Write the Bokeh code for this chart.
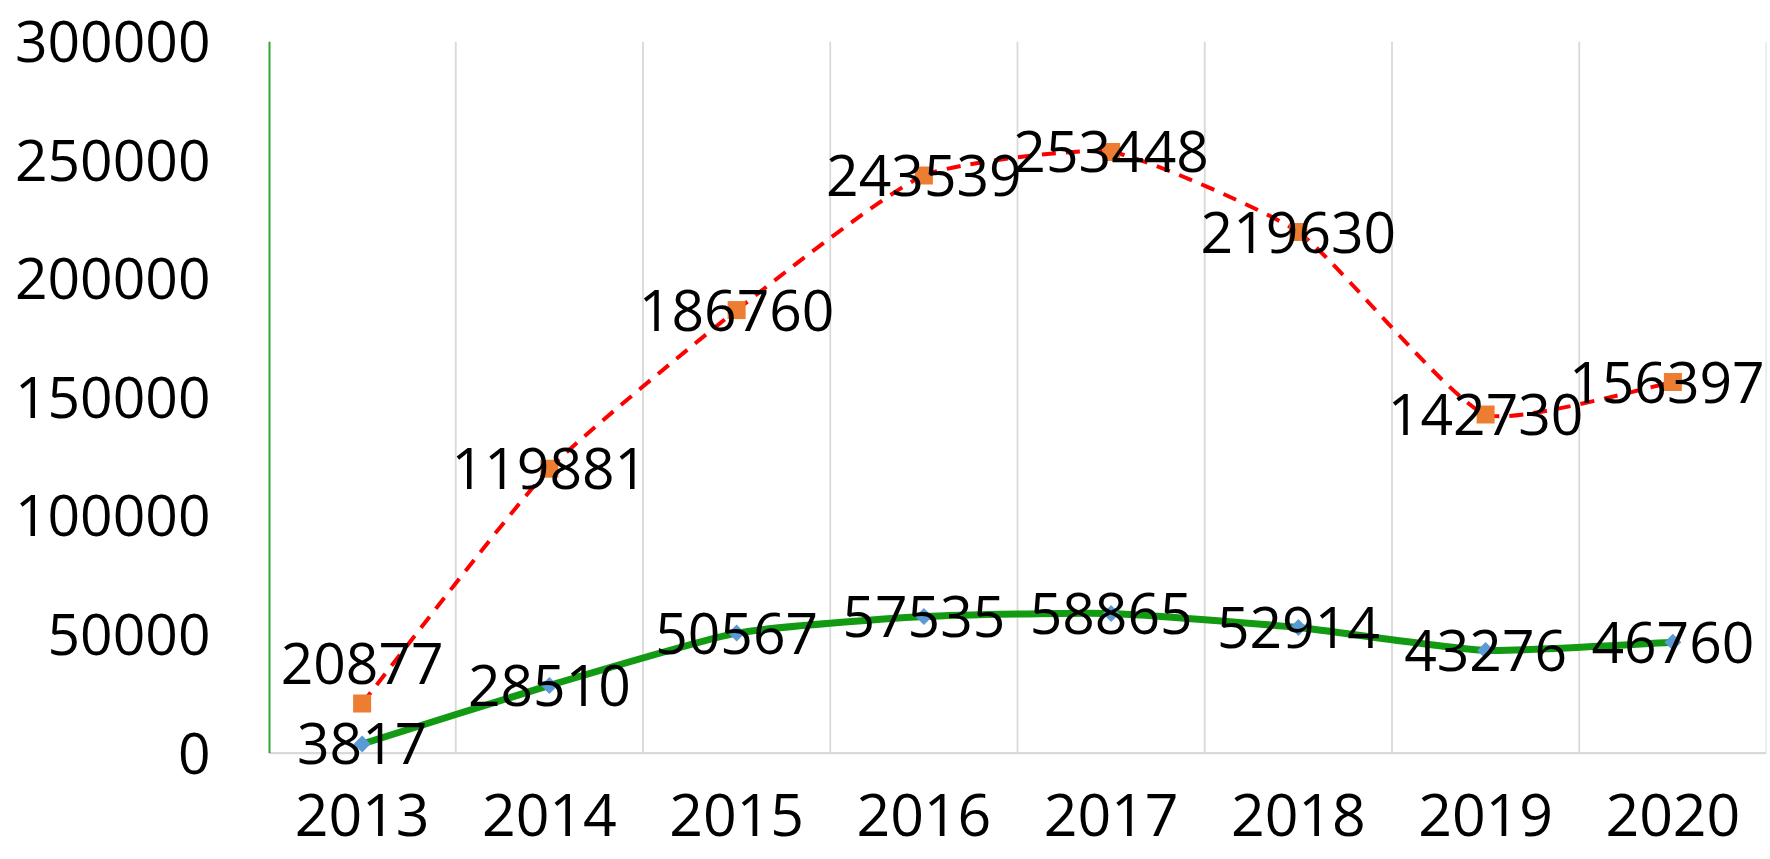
import numpy as np
from bokeh.plotting import figure
from bokeh.models import FixedTicker, NumeralTickFormatter, ColumnDataSource, Range1d, Label
from bokeh.embed import file_html
from bokeh.resources import INLINE

# ---- data ----
years = ["2013", "2014", "2015", "2016", "2017", "2018", "2019", "2020"]
series_red = [20877, 119881, 186760, 243539, 253448, 219630, 142730, 156397]
series_green = [3817, 28510, 50567, 57535, 58865, 52914, 43276, 46760]
y_ticks = [0, 50000, 100000, 150000, 200000, 250000, 300000]

FONT = "Open Sans"
x = [i + 0.5 for i in range(len(years))]
boundaries = list(range(0, len(years) + 1))

W, H = 1768, 857
LEFT, TOP, RIGHT, BOTTOM = 268, 41, 2, 76
Y_PAD = 12000  # room below zero so the lowest data label is not clipped by the frame
PX_X = (W - LEFT - RIGHT) / len(years)
PX_Y = (H - TOP - BOTTOM) / (y_ticks[-1] - y_ticks[0] + Y_PAD)


def bezier_source(xs, ys, t=0.17):
    """Control points for an Excel-like smoothed line through the data points."""
    n = len(xs)
    P = [(xi * PX_X, yi * PX_Y) for xi, yi in zip(xs, ys)]

    def dist(a, b):
        return ((a[0] - b[0]) ** 2 + (a[1] - b[1]) ** 2) ** 0.5

    outs, ins = [], []
    for i in range(n):
        a = P[max(i - 1, 0)]
        c = P[min(i + 1, n - 1)]
        m = (c[0] - a[0], c[1] - a[1])
        d0 = dist(a, P[i]) if i > 0 else dist(P[i], c)
        d1 = dist(P[i], c) if i < n - 1 else dist(a, P[i])
        w_out = t * d1 / (d0 + d1)
        w_in = t * d0 / (d0 + d1)
        outs.append((P[i][0] + m[0] * w_out, P[i][1] + m[1] * w_out))
        ins.append((P[i][0] - m[0] * w_in, P[i][1] - m[1] * w_in))
    d = dict(x0=[], y0=[], x1=[], y1=[], cx0=[], cy0=[], cx1=[], cy1=[])
    for i in range(n - 1):
        d["x0"].append(xs[i]); d["y0"].append(ys[i])
        d["x1"].append(xs[i + 1]); d["y1"].append(ys[i + 1])
        d["cx0"].append(outs[i][0] / PX_X); d["cy0"].append(outs[i][1] / PX_Y)
        d["cx1"].append(ins[i + 1][0] / PX_X); d["cy1"].append(ins[i + 1][1] / PX_Y)
    return ColumnDataSource(d)


p = figure(width=W, height=H, output_backend="svg", toolbar_location=None,
           x_range=Range1d(0, len(years)),
           y_range=Range1d(y_ticks[0] - Y_PAD, y_ticks[-1]),
           min_border_left=LEFT, min_border_top=TOP, min_border_right=RIGHT,
           min_border_bottom=BOTTOM)
p.outline_line_color = None
p.background_fill_color = "white"
p.border_fill_color = "white"

# axes (lines drawn separately so they stop at zero)
p.xaxis.ticker = FixedTicker(ticks=x)
p.xaxis.major_label_overrides = {xi: yr for xi, yr in zip(x, years)}
p.xaxis.major_tick_line_color = None
p.xaxis.minor_tick_line_color = None
p.xaxis.major_tick_out = 0
p.xaxis.minor_tick_out = 0
p.xaxis.axis_line_color = None
p.xaxis.major_label_text_font = FONT
p.xaxis.major_label_text_font_size = "59px"
p.xaxis.major_label_text_color = "black"
p.xaxis.major_label_standoff = 12

p.yaxis.ticker = FixedTicker(ticks=y_ticks)
p.yaxis.formatter = NumeralTickFormatter(format="0")
p.yaxis.major_tick_line_color = None
p.yaxis.minor_tick_line_color = None
p.yaxis.major_tick_out = 0
p.yaxis.minor_tick_out = 0
p.yaxis.axis_line_color = None
p.yaxis.major_label_text_font = FONT
p.yaxis.major_label_text_font_size = "57px"
p.yaxis.major_label_text_color = "black"
p.yaxis.major_label_standoff = 58

p.xgrid.grid_line_color = None
p.ygrid.grid_line_color = None

# category separators, category axis line and value axis line
p.segment(x0=boundaries[1:], y0=y_ticks[0], x1=boundaries[1:], y1=y_ticks[-1],
          line_color="#d9d9d9", line_width=1.8)
p.segment(x0=boundaries[0], y0=y_ticks[0], x1=boundaries[-1], y1=y_ticks[0],
          line_color="#d9d9d9", line_width=2.2)
p.segment(x0=boundaries[0], y0=y_ticks[0], x1=boundaries[0], y1=y_ticks[-1],
          line_color="#33a533", line_width=4)

# lines (smoothed)
p.bezier(x0="x0", y0="y0", x1="x1", y1="y1", cx0="cx0", cy0="cy0", cx1="cx1", cy1="cy1",
         source=bezier_source(x, series_red), line_color="#ff0000", line_width=4,
         line_dash="14 10")
p.bezier(x0="x0", y0="y0", x1="x1", y1="y1", cx0="cx0", cy0="cy0", cx1="cx1", cy1="cy1",
         source=bezier_source(x, series_green), line_color="#129a12", line_width=7)

# markers
p.scatter(x, series_red, marker="square", size=18, fill_color="#ed7d31", line_color=None)
p.scatter(x, series_green, marker="square", angle=np.pi / 4, size=12,
          fill_color="#5b9bd5", line_color=None)

# data labels
n = len(years)
for i, (xi, v) in enumerate(zip(x, series_red)):
    p.add_layout(Label(x=xi, y=v, text=str(v), text_align="center", text_baseline="middle",
                       y_offset=40 if i == 0 else 0, x_offset=-6 if i == n - 1 else 0,
                       text_font=FONT, text_font_size="57px", text_color="black"))
for xi, v in zip(x, series_green):
    p.add_layout(Label(x=xi, y=v, text=str(v), text_align="center", text_baseline="middle",
                       text_font=FONT, text_font_size="57px", text_color="black"))

open("out.html", "w").write(file_html(p, INLINE))
